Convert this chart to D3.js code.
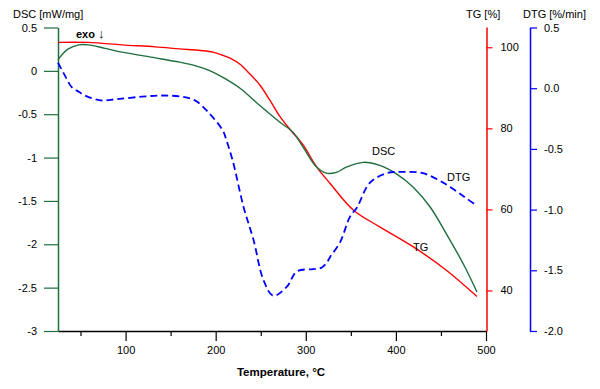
<!DOCTYPE html>
<html><head><meta charset="utf-8">
<script src="https://cdn.jsdelivr.net/npm/d3@7"></script>
<style>
html,body{margin:0;padding:0;background:#fff;}
svg text{font-family:"Liberation Sans",Arial,sans-serif;}
</style></head>
<body><svg id="c" width="600" height="389"></svg>
<script>
// ---- data ----
const dscT = [25,36,48,59,77,99,133,160,177,194,208,227,249,271,286,297,312,323,334,345,364,382,401,419,438,456,475,490];
const dscV = [0.13,0.25,0.30,0.30,0.26,0.21,0.15,0.10,0.06,0.0,-0.075,-0.20,-0.40,-0.59,-0.71,-0.88,-1.11,-1.18,-1.17,-1.11,-1.055,-1.09,-1.19,-1.34,-1.57,-1.88,-2.23,-2.55];
const tgT = [25,59,96,133,160,183,197,207,216,227,238,249,260,271,283,297,312,327,353,382,419,456,490];
const tgV = [101.2,101.2,100.6,100.1,99.6,99.2,98.8,98.1,97.3,95.8,93.4,90.7,87.0,83.0,79.6,75.9,70.5,66.4,59.8,55.7,50.8,45.0,38.5];
const dtgT = [25,33,40,46,55,72,90,118,140,162,177,192,208,212,219,231,242,253,264,279,290,308,317,323,327,338,349,357,371,390,408,430,453,475,490];
const dtgV = [0.21,0.10,0.01,-0.02,-0.06,-0.10,-0.09,-0.07,-0.06,-0.07,-0.10,-0.20,-0.35,-0.43,-0.60,-0.98,-1.25,-1.58,-1.71,-1.635,-1.51,-1.49,-1.48,-1.44,-1.39,-1.27,-1.06,-0.98,-0.78,-0.70,-0.69,-0.70,-0.78,-0.89,-0.97];
const xMajor = [100,200,300,400,500];
const xMinor = [50,150,250,350,450];
const dscTicks = [0.5,0,-0.5,-1,-1.5,-2,-2.5,-3];
const tgTicks = [100,80,60,40];
const dtgTicks = [0.5,0,-0.5,-1,-1.5,-2];

const GREEN = "#1e6e3e", RED = "#ff0000", BLUE = "#0000ff";
const svg = d3.select("#c");
const x = d3.scaleLinear([25,500],[58,486]);
const yD = d3.scaleLinear([-3,0.5],[331,27.5]);
const yT = d3.scaleLinear([30,105],[331,27]);
const yG = d3.scaleLinear([-2,0.5],[331,27.5]);

function style(g, color){
  g.select(".domain").attr("stroke", color).attr("stroke-width",1.5);
  g.selectAll(".tick line").attr("stroke", color).attr("stroke-width",1.2);
  g.selectAll(".tick text").attr("fill","#000").style("font-size","11px");
}

// bottom axis
svg.append("g").attr("transform","translate(0,331)")
  .call(d3.axisBottom(x).tickValues(xMinor).tickSize(5).tickFormat("").tickSizeOuter(0))
  .call(g=>{g.select(".domain").remove(); g.selectAll(".tick line").attr("stroke","#000").attr("stroke-width",1.2);});
svg.append("g").attr("transform","translate(0,331)")
  .call(d3.axisBottom(x).tickValues(xMajor).tickSize(10).tickPadding(5).tickSizeOuter(0).tickFormat(d=>String(d)))
  .call(g=>style(g,"#000"));

// left DSC axis
svg.append("g").attr("transform","translate(58,0)")
  .call(d3.axisLeft(yD).tickValues(dscTicks).tickSize(14).tickPadding(7).tickSizeOuter(0).tickFormat(d=>String(d)))
  .call(g=>style(g,GREEN));
// TG axis
svg.append("g").attr("transform","translate(486.5,0)")
  .call(d3.axisRight(yT).tickValues(tgTicks).tickSize(6).tickPadding(8).tickSizeOuter(0).tickFormat(d=>String(d)))
  .call(g=>style(g,RED));
// DTG axis
svg.append("g").attr("transform","translate(530,0)")
  .call(d3.axisRight(yG).tickValues(dtgTicks).tickSize(7).tickPadding(7).tickSizeOuter(0).tickFormat(d=>d.toFixed(1)))
  .call(g=>style(g,BLUE));

const curve = d3.curveCatmullRom.alpha(0.5);
svg.append("path").datum(d3.zip(tgT,tgV)).attr("fill","none").attr("stroke",RED).attr("stroke-width",1.4)
  .attr("d", d3.line().x(d=>x(d[0])).y(d=>yT(d[1])).curve(curve));
svg.append("path").datum(d3.zip(dscT,dscV)).attr("fill","none").attr("stroke",GREEN).attr("stroke-width",1.4)
  .attr("d", d3.line().x(d=>x(d[0])).y(d=>yD(d[1])).curve(curve));
svg.append("path").datum(d3.zip(dtgT,dtgV)).attr("fill","none").attr("stroke",BLUE).attr("stroke-width",1.8)
  .attr("stroke-dasharray","7,4")
  .attr("d", d3.line().x(d=>x(d[0])).y(d=>yG(d[1])).curve(curve));

// texts
const t = (xx,yy,s,opts={})=>svg.append("text").attr("x",xx).attr("y",yy).text(s)
  .style("font-size",(opts.size||11)+"px").style("font-weight",opts.bold?"bold":"normal")
  .attr("text-anchor",opts.anchor||"start").attr("fill","#000");
t(13,18,"DSC [mW/mg]");
t(466,18,"TG [%]");
t(523,18,"DTG [%/min]");
const exo = t(76,38,"exo ",{bold:true});
exo.append("tspan").style("font-size","13px").style("font-weight","normal").text("\u2193");
t(372,155,"DSC");
t(447,181,"DTG");
t(413,251,"TG");
t(281,376,"Temperature, \u00B0C",{bold:true,anchor:"middle",size:11.5});
</script></body></html>
